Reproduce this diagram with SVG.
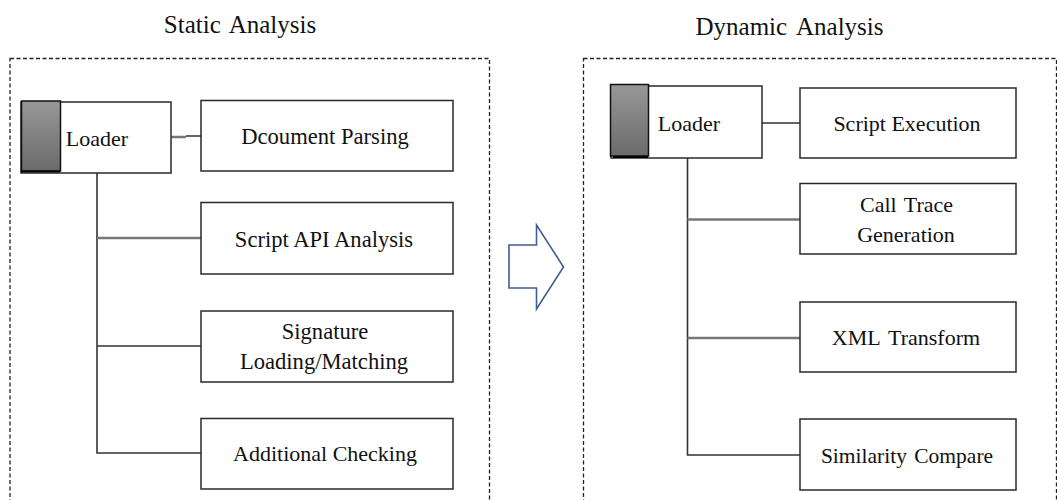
<svg xmlns="http://www.w3.org/2000/svg" width="1057" height="500" viewBox="0 0 1057 500">
<style>
text{font-family:"Liberation Serif","Times New Roman",serif;font-size:22px;fill:#111;text-anchor:middle}
.t{font-size:25px}
.w{font-size:22.600px}
.n{font-size:21.500px}
.b{fill:#fff;stroke:#2a2a2a;stroke-width:1.5}
.s{fill:url(#g);stroke:#111;stroke-width:1.5}
.f{fill:none;stroke:#222;stroke-width:1.3;stroke-dasharray:4 2.5}
.c{fill:none;stroke:#333;stroke-width:1.6}
.h{fill:none;stroke:#777;stroke-width:2.4}
</style>
<defs><linearGradient id="g" x1="0" y1="0" x2="0" y2="1"><stop offset="0" stop-color="#989898"/><stop offset="1" stop-color="#6a6a6a"/></linearGradient></defs>
<rect width="1057" height="500" fill="#fff"/>
<text class="t" x="240" y="33" style="word-spacing:3px">Static Analysis</text>
<text class="t" x="789.500" y="35" style="word-spacing:4px">Dynamic Analysis</text>
<rect class="f" x="10" y="58.500" width="479.500" height="445"/>
<rect class="f" x="583.500" y="58.500" width="473" height="445"/>
<g id="connectors">
<path class="c" d="M97 173V453H201M97 346H201M186 136H201"/>
<path class="h" d="M171 137H186M97 238H201"/>
<path class="c" d="M687.500 158V455H800M762 123H800"/>
<path class="h" d="M687.500 219.500H800M687.500 338H800"/>
</g>
<g id="static-loader"><rect class="b" x="21" y="102" width="150" height="71"/><rect class="s" x="21.500" y="101" width="39" height="70"/><path d="M21 171.500H60" stroke="#000" stroke-width="2"/><text x="97" y="146">Loader</text></g>
<g id="document-parsing"><rect class="b" x="201" y="100.500" width="252" height="70.500"/><text class="w" x="325" y="144">Dcoument Parsing</text></g>
<g id="script-api"><rect class="b" x="201" y="202.500" width="252" height="71.500"/><text class="w" x="324" y="247">Script API Analysis</text></g>
<g id="signature"><rect class="b" x="201" y="311" width="252" height="71"/><text class="w" x="325" y="339">Signature</text><text class="w" x="324" y="369">Loading/Matching</text></g>
<g id="additional"><rect class="b" x="201" y="418.500" width="252" height="70.500"/><text x="325" y="461">Additional Checking</text></g>
<g id="transition-arrow"><path d="M509 245H536.500V225L563.500 267L536.500 309V288H509Z" fill="#fff" stroke="#3f5f94" stroke-width="1.6"/></g>
<g id="dynamic-loader"><rect class="b" x="611" y="86" width="151" height="72"/><rect class="s" x="610.500" y="84.500" width="38" height="71.500"/><path d="M613 157H648" stroke="#000" stroke-width="2"/><text x="689" y="131">Loader</text></g>
<g id="script-execution"><rect class="b" x="800" y="88" width="216" height="70"/><text x="907" y="131">Script Execution</text></g>
<g id="call-trace"><rect class="b" x="800" y="183.500" width="216" height="70.500"/><text x="906.500" y="212" style="word-spacing:2px">Call Trace</text><text x="906" y="242">Generation</text></g>
<g id="xml-transform"><rect class="b" x="800" y="302" width="216" height="70"/><text x="906" y="345" style="word-spacing:3px">XML Transform</text></g>
<g id="similarity"><rect class="b" x="800" y="419" width="216" height="71"/><text class="n" x="907" y="463" style="word-spacing:2px">Similarity Compare</text></g>
</svg>
